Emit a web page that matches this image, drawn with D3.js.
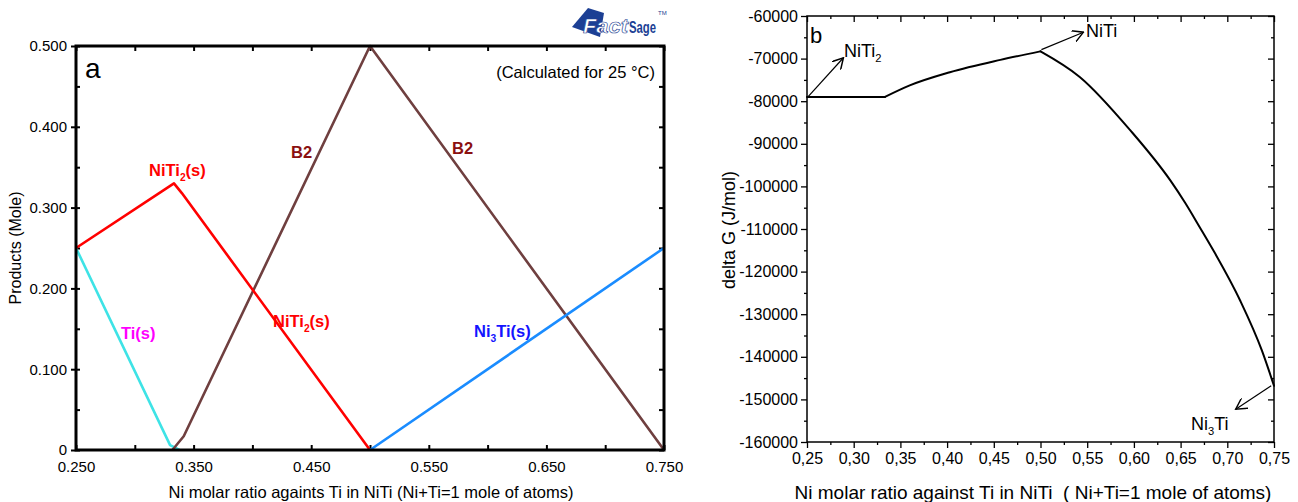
<!DOCTYPE html>
<html>
<head>
<meta charset="utf-8">
<script src="https://cdn.jsdelivr.net/npm/d3@7"></script>
<style>
  body { margin: 0; background: #fff; }
  svg { font-family: "Liberation Sans", Arial, sans-serif; }
</style>
</head>
<body>
<svg id="chart" width="1298" height="502"></svg>
<script>
// ---- panel a data (moles of product vs Ni ratio)
const xTicksA = [0.25, 0.35, 0.45, 0.55, 0.65, 0.75];
const yTicksA = [0, 0.1, 0.2, 0.3, 0.4, 0.5];
const niti2X = [0.25, 0.3333, 0.340, 0.5];
const niti2Y = [0.25, 0.330, 0.318, 0];
const tiX = [0.25, 0.330, 0.338];
const tiY = [0.25, 0.006, 0];
const b2X = [0.332, 0.3416, 0.5, 0.75];
const b2Y = [0, 0.017, 0.5, 0];
const ni3tiX = [0.5, 0.75];
const ni3tiY = [0, 0.25];

// ---- panel b data (delta G vs Ni ratio)
const xTicksB = [0.25, 0.30, 0.35, 0.40, 0.45, 0.50, 0.55, 0.60, 0.65, 0.70, 0.75];
const yTicksB = [-60000, -70000, -80000, -90000, -100000, -110000, -120000, -130000, -140000, -150000, -160000];
const dgX = [0.25, 0.3335, 0.36, 0.403, 0.457, 0.50, 0.542, 0.596, 0.639, 0.655, 0.67, 0.685, 0.714, 0.737, 0.75];
const dgY = [-79000, -79000, -76300, -73200, -70300, -68300, -74300, -86800, -98600, -103900, -109400, -115000, -126900, -138500, -146800];
const dgKinks = [1, 5]; // indices where the curve has a sharp corner

const svg = d3.select("#chart");

// arrow head
svg.append("defs").append("marker")
    .attr("id", "arr")
    .attr("viewBox", "0 0 10 10")
    .attr("refX", 9).attr("refY", 5)
    .attr("markerWidth", 12).attr("markerHeight", 12)
    .attr("markerUnits", "userSpaceOnUse")
    .attr("orient", "auto")
    .append("path")
    .attr("d", "M0,0 L9,5 L0,10")
    .attr("fill", "none")
    .attr("stroke", "#000")
    .attr("stroke-width", 1.2);

function zip(xs, ys) { return xs.map((x, i) => [x, ys[i]]); }

function subLabel(g, x, y, parts, opts) {
    const t = g.append("text").attr("x", x).attr("y", y)
        .attr("fill", opts.color).attr("font-size", opts.size)
        .attr("font-weight", opts.bold ? "bold" : "normal");
    parts.forEach(p => {
        const s = t.append("tspan").text(p.t);
        if (p.sub) s.attr("font-size", opts.size * 0.62).attr("dy", opts.size * 0.28);
        if (p.after) s.attr("dy", -opts.size * 0.28);
    });
    return t;
}

// =========================== panel a
const A = { l: 76, r: 664, t: 46, b: 450 };
const xA = d3.scaleLinear().domain([0.25, 0.75]).range([A.l, A.r]);
const yA = d3.scaleLinear().domain([0, 0.5]).range([A.b, A.t]);
const gA = svg.append("g");

const minorXA = d3.range(0.25, 0.7501, 0.05);
const minorYA = d3.range(0, 0.5001, 0.05);
const fmtA = d => d === 0 ? "0" : d3.format(".3f")(d);

gA.append("g").attr("transform", `translate(0,${A.b})`)
    .call(d3.axisBottom(xA).tickValues(minorXA).tickSize(-5).tickSizeOuter(0)
        .tickPadding(11)
        .tickFormat(d => xTicksA.some(v => Math.abs(v - d) < 1e-6) ? d3.format(".3f")(d) : ""));
gA.append("g").attr("transform", `translate(0,${A.t})`)
    .call(d3.axisTop(xA).tickValues(minorXA).tickSize(-5).tickSizeOuter(0).tickFormat(""));
gA.append("g").attr("transform", `translate(${A.l},0)`)
    .call(d3.axisLeft(yA).tickValues(yTicksA).tickSize(5).tickSizeOuter(0).tickPadding(4).tickFormat(fmtA));
gA.append("g").attr("transform", `translate(${A.l},0)`)
    .call(d3.axisLeft(yA).tickValues(minorYA).tickSize(-4).tickSizeOuter(0).tickFormat(""));
gA.append("g").attr("transform", `translate(${A.r},0)`)
    .call(d3.axisRight(yA).tickValues(minorYA).tickSize(-5).tickSizeOuter(0).tickFormat(""));
gA.selectAll(".tick line").attr("stroke-width", 2);
gA.selectAll(".tick text").attr("font-size", 15).attr("fill", "#000")
    .attr("font-family", "'Liberation Sans', Arial, sans-serif");
gA.selectAll(".domain").remove();

const lineA = d3.line().x(d => xA(d[0])).y(d => yA(d[1]));
const seriesA = [
    { pts: zip(tiX, tiY), color: "#3ee3e6" },
    { pts: zip(b2X, b2Y), color: "#6f3f3f" },
    { pts: zip(niti2X, niti2Y), color: "#ff0000" },
    { pts: zip(ni3tiX, ni3tiY), color: "#1a8cff" }
];
gA.selectAll("path.series").data(seriesA).enter().append("path")
    .attr("class", "series")
    .attr("d", d => lineA(d.pts))
    .attr("fill", "none")
    .attr("stroke", d => d.color)
    .attr("stroke-width", 2.6)
    .attr("stroke-linejoin", "round");

gA.append("rect").attr("x", A.l).attr("y", A.t).attr("width", A.r - A.l).attr("height", A.b - A.t)
    .attr("fill", "none").attr("stroke", "#000").attr("stroke-width", 3);

gA.append("text").attr("x", 85).attr("y", 78).attr("font-size", 28).text("a");
gA.append("text").attr("x", 655).attr("y", 78).attr("font-size", 16.5).attr("text-anchor", "end")
    .text("(Calculated for 25 °C)");

subLabel(gA, 149, 176, [{ t: "NiTi" }, { t: "2", sub: true }, { t: "(s)", after: true }], { color: "#ff0000", size: 16.5, bold: true });
subLabel(gA, 273, 327, [{ t: "NiTi" }, { t: "2", sub: true }, { t: "(s)", after: true }], { color: "#ff0000", size: 16.5, bold: true });
subLabel(gA, 474, 337, [{ t: "Ni" }, { t: "3", sub: true }, { t: "Ti(s)", after: true }], { color: "#1414ff", size: 16.5, bold: true });
gA.append("text").attr("x", 121).attr("y", 339).attr("font-size", 16.5).attr("font-weight", "bold")
    .attr("fill", "#ff00ff").text("Ti(s)");
gA.append("text").attr("x", 291).attr("y", 158).attr("font-size", 16.5).attr("font-weight", "bold")
    .attr("fill", "#8b1010").text("B2");
gA.append("text").attr("x", 452).attr("y", 154).attr("font-size", 16.5).attr("font-weight", "bold")
    .attr("fill", "#8b1010").text("B2");

gA.append("text").attr("transform", "translate(21,248) rotate(-90)")
    .attr("text-anchor", "middle").attr("font-size", 16).text("Products (Mole)");
gA.append("text").attr("x", 371).attr("y", 498).attr("text-anchor", "middle").attr("font-size", 16.5)
    .text("Ni molar ratio againts Ti in NiTi (Ni+Ti=1 mole of atoms)");

// FactSage logo
const logo = svg.append("g");
logo.append("polygon").attr("points", "588,8 604,13 600,37 572,27").attr("fill", "#1c3f94");
logo.append("text").attr("x", 583).attr("y", 33).attr("font-size", 20).attr("font-weight", "bold")
    .attr("font-style", "italic").attr("fill", "#fff").attr("stroke", "#1c3f94").attr("stroke-width", 0.6)
    .attr("textLength", 45).attr("lengthAdjust", "spacingAndGlyphs").text("Fact");
logo.append("text").attr("x", 629).attr("y", 33).attr("font-size", 17)
    .attr("fill", "#1c3f94").attr("font-weight", "bold")
    .attr("textLength", 27).attr("lengthAdjust", "spacingAndGlyphs").text("Sage");
logo.append("text").attr("x", 658).attr("y", 15).attr("font-size", 6).attr("fill", "#1c3f94").text("TM");

// =========================== panel b
const B = { l: 807, r: 1274, t: 16, b: 442 };
const xB = d3.scaleLinear().domain([0.25, 0.75]).range([B.l, B.r]);
const yB = d3.scaleLinear().domain([-160000, -60000]).range([B.b, B.t]);
const gB = svg.append("g");

const minorXB = d3.range(0.25, 0.7501, 0.025);
const minorYB = d3.range(-160000, -59999, 5000);
const isMajor = (arr, d) => arr.some(v => Math.abs(v - d) < 1e-6);

gB.append("g").attr("transform", `translate(0,${B.b})`)
    .call(d3.axisBottom(xB).tickValues(xTicksB).tickSize(6).tickSizeOuter(0).tickPadding(5)
        .tickFormat(d => d3.format(".2f")(d).replace(".", ",")));
gB.append("g").attr("transform", `translate(0,${B.b})`)
    .call(d3.axisBottom(xB).tickValues(minorXB.filter(d => !isMajor(xTicksB, d))).tickSize(3).tickSizeOuter(0).tickFormat(""));
gB.append("g").attr("transform", `translate(0,${B.t})`)
    .call(d3.axisTop(xB).tickValues(xTicksB).tickSize(-6).tickSizeOuter(0).tickFormat(""));
gB.append("g").attr("transform", `translate(0,${B.t})`)
    .call(d3.axisTop(xB).tickValues(minorXB.filter(d => !isMajor(xTicksB, d))).tickSize(-3).tickSizeOuter(0).tickFormat(""));
gB.append("g").attr("transform", `translate(${B.l},0)`)
    .call(d3.axisLeft(yB).tickValues(yTicksB).tickSize(6).tickSizeOuter(0).tickPadding(3)
        .tickFormat(d => "-" + Math.abs(d)));
gB.append("g").attr("transform", `translate(${B.l},0)`)
    .call(d3.axisLeft(yB).tickValues(minorYB.filter(d => !isMajor(yTicksB, d))).tickSize(3).tickSizeOuter(0).tickFormat(""));
gB.append("g").attr("transform", `translate(${B.r},0)`)
    .call(d3.axisRight(yB).tickValues(yTicksB).tickSize(-6).tickSizeOuter(0).tickFormat(""));
gB.append("g").attr("transform", `translate(${B.r},0)`)
    .call(d3.axisRight(yB).tickValues(minorYB.filter(d => !isMajor(yTicksB, d))).tickSize(-3).tickSizeOuter(0).tickFormat(""));
gB.selectAll(".tick line").attr("stroke-width", 1.3);
gB.selectAll(".tick text").attr("font-size", 16).attr("fill", "#000")
    .attr("font-family", "'Liberation Sans', Arial, sans-serif");
gB.selectAll(".domain").remove();

gB.append("rect").attr("x", B.l).attr("y", B.t).attr("width", B.r - B.l).attr("height", B.b - B.t)
    .attr("fill", "none").attr("stroke", "#000").attr("stroke-width", 1.5);

// draw the curve in pieces so the corners stay sharp while each piece is smooth
const dgPts = zip(dgX, dgY);
const cuts = [0, ...dgKinks, dgPts.length - 1];
const pieces = d3.pairs(cuts).map(([a, b]) => dgPts.slice(a, b + 1));
const lineB = d3.line().x(d => xB(d[0])).y(d => yB(d[1])).curve(d3.curveMonotoneX);
gB.selectAll("path.dg").data(pieces).enter().append("path")
    .attr("class", "dg")
    .attr("d", lineB).attr("fill", "none").attr("stroke", "#000").attr("stroke-width", 2)
    .attr("stroke-linejoin", "round").attr("stroke-linecap", "round");

gB.append("text").attr("x", 810).attr("y", 43).attr("font-size", 22).text("b");

// annotations with arrows
const annot = [
    { from: [0.251, -79000], to: [0.289, -69800] },
    { from: [0.501, -67900], to: [0.546, -63800] },
    { from: [0.747, -146800], to: [0.709, -152300] }
];
gB.selectAll("line.arrow").data(annot).enter().append("line")
    .attr("class", "arrow")
    .attr("x1", d => xB(d.from[0])).attr("y1", d => yB(d.from[1]))
    .attr("x2", d => xB(d.to[0])).attr("y2", d => yB(d.to[1]))
    .attr("stroke", "#000").attr("stroke-width", 1.2)
    .attr("marker-end", "url(#arr)");

subLabel(gB, 844, 57, [{ t: "NiTi" }, { t: "2", sub: true }], { color: "#000", size: 18 });
gB.append("text").attr("x", 1086).attr("y", 37).attr("font-size", 18).text("NiTi");
subLabel(gB, 1191, 430, [{ t: "Ni" }, { t: "3", sub: true }, { t: "Ti", after: true }], { color: "#000", size: 18 });

gB.append("text").attr("transform", "translate(735,230) rotate(-90)")
    .attr("text-anchor", "middle").attr("font-size", 18).text("delta G (J/mol)");
gB.append("text").attr("x", 1033).attr("y", 499).attr("text-anchor", "middle").attr("font-size", 19)
    .attr("xml:space", "preserve").style("white-space", "pre")
    .text("Ni molar ratio against Ti in NiTi  ( Ni+Ti=1 mole of atoms)");
</script>
</body>
</html>
